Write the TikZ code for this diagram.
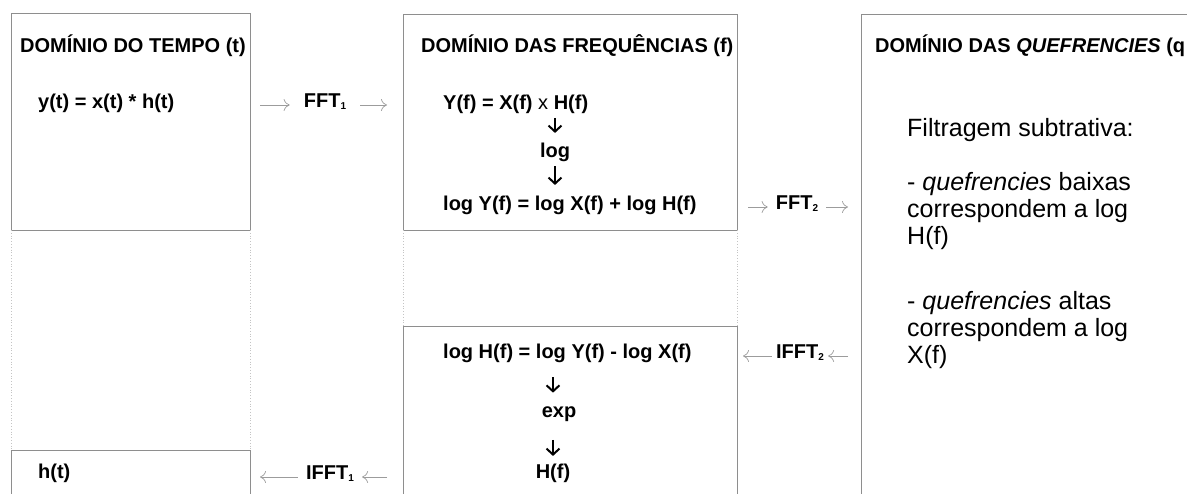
\documentclass[tikz,border=0pt]{standalone}
\usepackage{fontspec}
\setmainfont{Liberation Sans}
\usetikzlibrary{arrows.meta, positioning}
\definecolor{frameGray}{HTML}{8E8E8E}
\definecolor{guideGray}{HTML}{C4C4C4}
\definecolor{flowGray}{HTML}{9C9C9C}
\newcommand{\eqfont}{\fontsize{20}{24}\selectfont\bfseries}
\newcommand{\notefont}{\fontsize{25}{27}\selectfont}
\newcommand{\idx}[1]{\raisebox{-1.5pt}{\fontsize{10}{10}\selectfont #1}}
\tikzset{
    frame/.style={
        draw=frameGray,
        line width=0.9pt
    },
    guide/.style={
        draw=guideGray,
        dotted,
        line width=0.8pt
    }
}

\begin{document}
\begin{tikzpicture}[
    x=1pt, y=-1pt,
    every node/.style={inner sep=0pt},
    header/.style={anchor=mid west, font=\eqfont},
    eqline/.style={anchor=mid west, font=\eqfont},
    stack/.style={anchor=mid, font=\eqfont},
    op/.style={anchor=mid, font=\eqfont},
    note/.style={anchor=north west, font=\notefont, align=left},
    flow/.style={-{To[length=6pt, width=12pt]}, draw=flowGray, line width=0.7pt},
    down/.style={-{Straight Barb[length=6pt, width=13pt]}, line width=2pt},
]
\useasboundingbox (0,0) rectangle (1187,494);

% ====== BOXES ======
\draw[frame] (11,13) rectangle (250,230);
\draw[guide] (11,230) -- (11,450) (250,230) -- (250,450);
\draw[frame] (11,494) -- (11,450) -- (250,450) -- (250,494);

\draw[frame] (403,14) rectangle (737,230);
\draw[guide] (403,230) -- (403,326) (737,230) -- (737,326);
\draw[frame] (403,494) -- (403,326) -- (737,326) -- (737,494);

\draw[frame] (861,494) -- (861,14) -- (1187,14);

% ====== LEFT PART: TIME ======
\node[header] (hdr_time) at (20,50) {DOMÍNIO DO TEMPO (t)};
\node[eqline] (eq_conv) at (38,106) {y(t) = x(t) * h(t)};
\node[eqline] (eq_ht) at (38,476) {h(t)};

% ====== MIDDLE PART: FREQUENCIES ======
\node[header] (hdr_freq) at (421,50) {DOMÍNIO DAS FREQUÊNCIAS (f)};
\node[eqline] (eq_prod) at (443,107) {Y(f) = X(f) {\mdseries x} H(f)};
\node[stack] (op_log) at (555,155) {log};
\node[eqline] (eq_sum) at (443,208) {log Y(f) = log X(f) + log H(f)};

\node[eqline] (eq_diff) at (443,356) {log H(f) = log Y(f) - log X(f)};
\node[stack] (op_exp) at (559,415) {exp};
\node[stack] (eq_hf) at (553,476) {H(f)};

% --- down arrows ---
\draw[down, shorten <=4pt, shorten >=10pt] (op_log.north |- eq_prod.south) -- (op_log.north);
\draw[down, shorten <=4pt, shorten >=11pt] (op_log.south) -- (op_log.south |- eq_sum.north);
\draw[down, shorten <=14pt, shorten >=14pt] (eq_hf.north |- eq_diff.south) -- (eq_hf.north |- op_exp.north);
\draw[down, shorten <=18pt, shorten >=8pt] (eq_hf.north |- op_exp.south) -- (eq_hf.north);

% ====== RIGHT PART: QUEFRENCIES ======
\node[header] (hdr_quef) at (875,50) {DOMÍNIO DAS \textit{QUEFRENCIES} (q};
\node[note] (note_filter) at (907,118) {Filtragem subtrativa:\\[27pt]
- \textit{quefrencies} baixas\\
correspondem a log\\
H(f)\\[38pt]
- \textit{quefrencies} altas\\
correspondem a log\\
X(f)};

% ====== TRANSFORMS ======
\node[op, inner xsep=14pt] (fft1) at (325,105) {FFT\idx{1}};
\coordinate (fft1_in) at (260,105);
\coordinate (fft1_out) at (387,105);
\draw[flow] (fft1_in) -- (fft1_in -| fft1.west);
\draw[flow] (fft1.east |- fft1_out) -- (fft1_out);

\node[op, inner xsep=8pt] (fft2) at (797,207) {FFT\idx{2}};
\coordinate (fft2_in) at (748,207);
\coordinate (fft2_out) at (848,207);
\draw[flow] (fft2_in) -- (fft2_in -| fft2.west);
\draw[flow] (fft2.east |- fft2_out) -- (fft2_out);

\node[op, inner xsep=4pt] (ifft2) at (800,356) {IFFT\idx{2}};
\coordinate (ifft2_in) at (848,356);
\coordinate (ifft2_out) at (743,356);
\draw[flow] (ifft2_in) -- (ifft2_in -| ifft2.east);
\draw[flow] (ifft2.west |- ifft2_out) -- (ifft2_out);

\node[op, inner xsep=8pt] (ifft1) at (330,477) {IFFT\idx{1}};
\coordinate (ifft1_in) at (387,477);
\coordinate (ifft1_out) at (260,477);
\draw[flow] (ifft1_in) -- (ifft1_in -| ifft1.east);
\draw[flow] (ifft1.west |- ifft1_out) -- (ifft1_out);

\end{tikzpicture}
\end{document}
